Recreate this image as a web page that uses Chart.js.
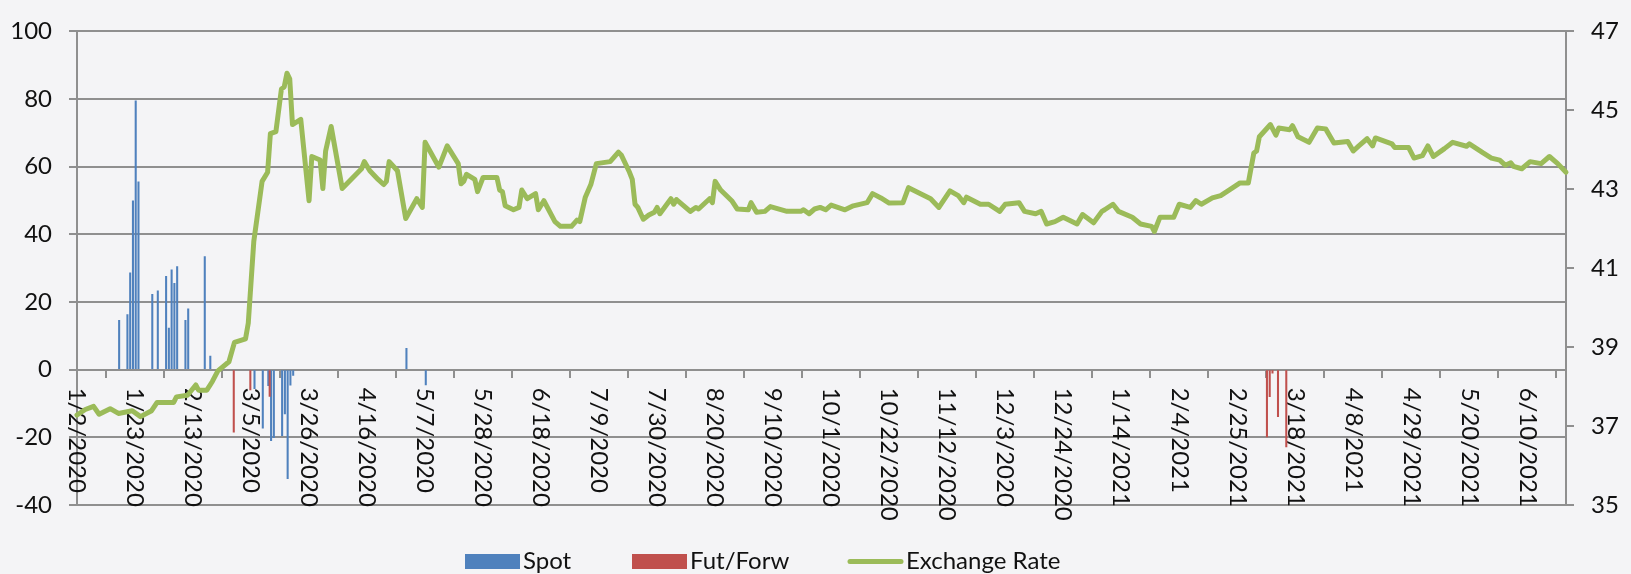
<!DOCTYPE html>
<html>
<head>
<meta charset="utf-8">
<script src="https://cdn.jsdelivr.net/npm/chart.js@4.4.1/dist/chart.umd.min.js"></script>
<style>
  html, body { margin: 0; padding: 0; background: #f4f4f6; }
  #wrap { width: 1631px; height: 574px; }
</style>
</head>
<body>
<div id="wrap"><canvas id="fxChart" width="1631" height="574"></canvas></div>
<script>
// daily date axis, 1/2/2020 .. 6/24/2021
var dayCount = 540;
var categories = [];
for (var i = 0; i < dayCount; i++) {
    var dt = new Date(2020, 0, 2 + i);
    categories.push((dt.getMonth() + 1) + '/' + dt.getDate() + '/' + dt.getFullYear());
}

var tickLabels = ['1/2/2020', '1/23/2020', '2/13/2020', '3/5/2020', '3/26/2020', '4/16/2020',
    '5/7/2020', '5/28/2020', '6/18/2020', '7/9/2020', '7/30/2020', '8/20/2020', '9/10/2020',
    '10/1/2020', '10/22/2020', '11/12/2020', '12/3/2020', '12/24/2020', '1/14/2021', '2/4/2021',
    '2/25/2021', '3/18/2021', '4/8/2021', '4/29/2021', '5/20/2021', '6/10/2021'];

// day = days since 1/2/2020
var spotDay = [15, 18, 19, 20, 21, 22, 27, 29, 32, 33, 34, 35, 36, 39, 40, 46, 48,
    64, 67, 69, 70, 71, 74, 75, 76, 77, 78, 119, 126];
var spotValue = [14.6, 16.3, 28.6, 49.9, 79.5, 55.5, 22.3, 23.3, 27.6, 12.3, 29.5, 25.5, 30.5, 14.6, 18, 33.4, 4,
    -5.6, -17.3, -4.7, -21, -20.1, -19.5, -13.1, -32.2, -4.6, -1.7, 6.3, -4.5];

var futDay = [57, 63, 70, 431, 432, 433, 435, 438];
var futValue = [-18.5, -6, -7.9, -19.9, -8, -1, -13.9, -22.8];

var rateDay = [0, 3, 6, 8, 12, 15, 20, 23, 27, 29,
    35, 36, 40, 43, 44, 47, 49, 51, 55, 57,
    61, 62, 64, 67, 69, 70, 72, 74, 75, 76,
    77, 78, 81, 84, 85, 88, 89, 90, 92, 96,
    103, 104, 106, 109, 111, 112, 113, 116, 119, 123,
    125, 126, 131, 134, 138, 139, 140, 141, 144, 145,
    147, 152, 153, 154, 155, 158, 160, 161, 163, 166,
    167, 169, 173, 175, 179, 181, 182, 184, 186, 188,
    193, 196, 197, 200, 201, 202, 203, 205, 207, 209,
    210, 211, 215, 216, 217, 222, 224, 225, 229, 230,
    231, 233, 237, 239, 243, 244, 246, 249, 251, 257,
    262, 263, 265, 267, 269, 271, 273, 278, 281, 286,
    288, 291, 294, 299, 301, 307, 309, 312, 316, 319,
    321, 322, 327, 330, 334, 336, 341, 343, 347, 349,
    351, 354, 357, 362, 364, 368, 371, 372, 375, 377,
    382, 385, 389, 390, 392, 397, 399, 403, 405, 407,
    411, 414, 418, 421, 424, 426, 427, 428, 432, 434,
    435, 439, 440, 442, 446, 449, 452, 455, 460, 462,
    464, 467, 469, 470, 476, 477, 482, 484, 487, 489,
    491, 495, 498, 503, 504, 509, 512, 515, 517, 519,
    520, 523, 526, 530, 533, 536, 539];
var rateValue = [37.28, 37.42, 37.50, 37.30, 37.44, 37.32, 37.39, 37.24, 37.39, 37.60,
    37.60, 37.74, 37.78, 38.04, 37.91, 37.91, 38.13, 38.40, 38.63, 39.12,
    39.21, 39.61, 41.68, 43.20, 43.43, 44.41, 44.46, 45.54, 45.59, 45.94,
    45.80, 44.64, 44.77, 42.71, 43.83, 43.74, 43.02, 43.97, 44.59, 43.02,
    43.52, 43.70, 43.47, 43.25, 43.12, 43.20, 43.70, 43.47, 42.26, 42.76,
    42.54, 44.19, 43.56, 44.10, 43.65, 43.14, 43.20, 43.38, 43.25, 42.94,
    43.30, 43.30, 42.98, 42.94, 42.58, 42.48, 42.54, 42.98, 42.76, 42.89,
    42.48, 42.71, 42.18, 42.06, 42.06, 42.22, 42.18, 42.80, 43.12, 43.65,
    43.70, 43.94, 43.87, 43.43, 43.25, 42.62, 42.54, 42.24, 42.35, 42.42,
    42.54, 42.38, 42.76, 42.62, 42.74, 42.44, 42.54, 42.50, 42.76, 42.66,
    43.20, 42.98, 42.71, 42.50, 42.48, 42.66, 42.42, 42.44, 42.56, 42.44,
    42.44, 42.48, 42.38, 42.50, 42.54, 42.48, 42.60, 42.48, 42.58, 42.66,
    42.89, 42.78, 42.65, 42.66, 43.04, 42.83, 42.76, 42.54, 42.96, 42.84,
    42.66, 42.80, 42.62, 42.62, 42.44, 42.62, 42.66, 42.44, 42.38, 42.44,
    42.12, 42.18, 42.29, 42.12, 42.36, 42.15, 42.44, 42.48, 42.62, 42.44,
    42.29, 42.12, 42.06, 41.93, 42.29, 42.29, 42.62, 42.54, 42.71, 42.62,
    42.78, 42.84, 43.02, 43.16, 43.16, 43.92, 43.97, 44.33, 44.64, 44.37,
    44.55, 44.51, 44.61, 44.33, 44.19, 44.55, 44.53, 44.17, 44.21, 43.97,
    44.10, 44.28, 44.10, 44.30, 44.15, 44.06, 44.06, 43.79, 43.85, 44.10,
    43.83, 44.03, 44.19, 44.09, 44.15, 43.92, 43.79, 43.74, 43.61, 43.67,
    43.58, 43.52, 43.70, 43.65, 43.83, 43.65, 43.43];

var leftTicks = { min: -40, max: 100, step: 20 };
var rightTicks = { min: 35, max: 47, step: 2 };

function spread(days, values) {
    var out = new Array(dayCount).fill(null);
    for (var k = 0; k < days.length; k++) out[days[k]] = values[k];
    return out;
}

var spotColor = '#4F81BD', futColor = '#C0504D', rateColor = '#9BBB59';
var gridColor = '#8f8f8f';
var fontFamily = 'Lato';
var font = { family: fontFamily, size: 24 };

var xLabels = {
    id: 'xLabels',
    beforeDatasetsDraw: function (chart) {
        var ctx = chart.ctx, xs = chart.scales.x;
        var top = chart.scales.y.getPixelForValue(0) + 18;
        ctx.save();
        ctx.font = '24px ' + fontFamily;
        ctx.fillStyle = '#111';
        ctx.textAlign = 'left';
        ctx.textBaseline = 'middle';
        tickLabels.forEach(function (t) {
            ctx.save();
            ctx.translate(xs.getPixelForValue(categories.indexOf(t)), top);
            ctx.rotate(Math.PI / 2);
            ctx.fillText(t, 0, 0);
            ctx.restore();
        });
        ctx.restore();
    }
};

var bottomLegend = {
    id: 'bottomLegend',
    afterDraw: function (chart) {
        var ctx = chart.ctx;
        var cy = 561.5;
        var xs = [465, 632, 848];
        ctx.save();
        ctx.font = '24px ' + fontFamily;
        ctx.textBaseline = 'middle';
        chart.data.datasets.forEach(function (ds, n) {
            var x = xs[n];
            if (ds.type === 'line') {
                ctx.strokeStyle = ds.borderColor;
                ctx.lineWidth = 5;
                ctx.lineCap = 'round';
                ctx.beginPath();
                ctx.moveTo(x + 2, cy);
                ctx.lineTo(x + 53, cy);
                ctx.stroke();
            } else {
                ctx.fillStyle = ds.backgroundColor;
                ctx.fillRect(x, cy - 7.5, 55, 15);
            }
            ctx.fillStyle = '#111';
            ctx.fillText(ds.label, x + 58, cy);
        });
        ctx.restore();
    }
};

var ctx = document.getElementById('fxChart');
var fxChart = new Chart(ctx, {
    type: 'bar',
    data: {
        labels: categories,
        datasets: [
            {
                label: 'Spot',
                data: spread(spotDay, spotValue),
                backgroundColor: spotColor,
                barThickness: 1.4,
                yAxisID: 'y',
                order: 2
            },
            {
                label: 'Fut/Forw',
                data: spread(futDay, futValue),
                backgroundColor: futColor,
                barThickness: 1.4,
                yAxisID: 'y',
                order: 1
            },
            {
                type: 'line',
                label: 'Exchange Rate',
                data: spread(rateDay, rateValue),
                borderColor: rateColor,
                backgroundColor: rateColor,
                borderWidth: 5,
                borderJoinStyle: 'round',
                borderCapStyle: 'round',
                pointRadius: 0,
                tension: 0,
                spanGaps: true,
                clip: 4,
                yAxisID: 'y1',
                order: 0
            }
        ]
    },
    options: {
        responsive: false,
        devicePixelRatio: 1,
        animation: false,
        events: [],
        layout: { padding: { top: 18, bottom: 69, left: 0, right: 0 } },
        plugins: { legend: { display: false }, tooltip: { enabled: false } },
        scales: {
            x: {
                type: 'category',
                position: { y: 0 },
                offset: false,
                ticks: { display: false, autoSkip: false },
                grid: { drawOnChartArea: false, drawTicks: true, tickLength: 8, color: gridColor, lineWidth: 2 },
                border: { display: false },
                afterBuildTicks: function (s) {
                    s.ticks = s.ticks.filter(function (t) { return t.value % 21 === 0; });
                }
            },
            y: {
                position: 'left',
                min: leftTicks.min,
                max: leftTicks.max,
                ticks: { stepSize: leftTicks.step, padding: 17, color: '#111', font: font },
                grid: { color: gridColor, lineWidth: 2, tickLength: 8 },
                border: { display: true, color: gridColor, width: 2 },
                afterFit: function (s) { s.width = 77; }
            },
            y1: {
                position: 'right',
                min: rightTicks.min,
                max: rightTicks.max,
                ticks: { stepSize: rightTicks.step, padding: 17, color: '#111', font: font },
                grid: { drawOnChartArea: false, color: gridColor, lineWidth: 2, tickLength: 8 },
                border: { display: true, color: gridColor, width: 2 },
                afterFit: function (s) { s.width = 65; }
            }
        }
    },
    plugins: [xLabels, bottomLegend]
});
</script>
</body>
</html>
